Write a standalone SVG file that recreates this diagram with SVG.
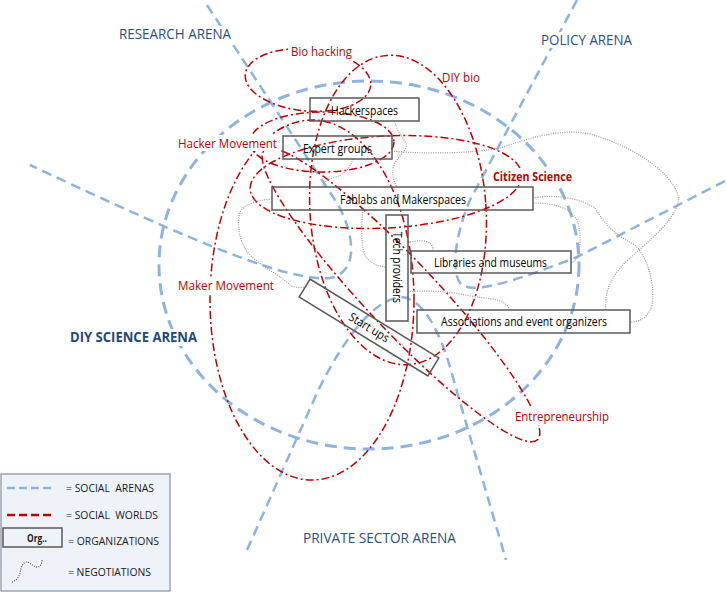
<svg xmlns="http://www.w3.org/2000/svg" width="727" height="592" viewBox="0 0 727 592">
<style>
.arena{fill:none;stroke:#8db3e2;stroke-width:2.5;stroke-dasharray:10 6}
.world{fill:none;stroke:#c00000;stroke-width:1.5;stroke-dasharray:8 3 2 3}
.neg{fill:none;stroke:#9b9b9b;stroke-width:1.2;stroke-dasharray:1 1.3}
.box{fill:none;stroke:#5a5a5a;stroke-width:1.5}
text{font-family:"Open Sans","Liberation Sans",sans-serif}
.an{font-size:14px;fill:#2b4f80}
.wl{font-size:13px;fill:#c00000}
.bl{font-size:12px;fill:#000}
.lg{font-size:10.5px;fill:#1a1a1a}
.bg{fill:#fff}
</style>
<rect width="727" height="592" fill="#fff"/>
<g id="arenas">
<ellipse class="arena" cx="369" cy="265" rx="210" ry="184" style="stroke-width:3;stroke-dasharray:12 7"/>
<path class="arena" d="M207,5 L337,203 C352,228 362,272 330,278 C290,282 200,245 30,165"/>
<path class="arena" d="M577,0 L470,200 C455,235 450,275 462,285 C478,295 530,275 577,257 L727,180"/>
<path class="arena" d="M247,550 L317,393 C345,335 375,300 400,297 C420,297 440,325 455,385 L506,560"/>
</g>
<g id="social-worlds">
<ellipse id="w-biohacking" class="world" cx="308" cy="80" rx="63" ry="31" transform="rotate(5 308 80)"/>
<ellipse id="w-diybio" class="world" cx="398" cy="210" rx="88" ry="155" transform="rotate(-4 398 210)"/>
<ellipse id="w-hacker" class="world" cx="322" cy="142" rx="72" ry="30"/>
<ellipse id="w-citizen" class="world" cx="386" cy="182" rx="136" ry="46" transform="rotate(-3 386 182)"/>
<ellipse id="w-maker" class="world" cx="312" cy="300" rx="102" ry="180"/>
<ellipse id="w-entre" class="world" cx="401" cy="295" rx="199" ry="35" transform="rotate(46.7 401 295)"/>
</g>
<g id="connectors">
<path class="neg" d="M392,151 C420,154 470,154 500,148 C530,138 560,128 590,134 C630,145 670,170 678,195 C682,215 650,240 630,258 C605,280 605,300 606,310"/>
<path class="neg" d="M533,198 C555,194 580,198 595,208 C605,225 615,235 635,245 C650,260 655,290 652,305 C648,318 640,322 630,322"/>
<path class="neg" d="M533,203 C555,203 570,208 577,220 C582,232 580,248 578,255 C576,262 572,263 571,262"/>
<path class="neg" d="M395,121 C396,130 402,136 406,143 C408,150 398,156 394,165 C391,175 394,182 397,187"/>
<path class="neg" d="M353,159 C350,168 345,175 332,178 C325,180 322,184 323,187"/>
<path class="neg" d="M272,199 C258,200 244,204 240,212 C236,225 240,245 250,255 C262,267 280,275 290,285 C295,288 300,288 304,287"/>
<path class="neg" d="M363,210 C361,225 361,245 365,255 C370,264 378,266 386,267"/>
<path class="neg" d="M408,243 C415,240 425,240 430,243 C433,246 433,249 433,251"/>
<path class="neg" d="M408,292 C425,290 450,291 470,296 C490,299 505,298 510,310"/>
</g>
<g id="labels">
<rect class="bg" x="117" y="26" width="116" height="16"/>
<text class="an" x="119" y="39" textLength="112" lengthAdjust="spacingAndGlyphs">RESEARCH ARENA</text>
<rect class="bg" x="539" y="32" width="95" height="16"/>
<text class="an" x="541" y="45" textLength="91" lengthAdjust="spacingAndGlyphs">POLICY ARENA</text>
<rect class="bg" x="68" y="329" width="131" height="17"/>
<text class="an" x="70" y="342" textLength="127" lengthAdjust="spacingAndGlyphs" style="font-weight:bold;font-size:13.5px;fill:#1f497d">DIY SCIENCE ARENA</text>
<text class="an" x="303" y="543" textLength="153" lengthAdjust="spacingAndGlyphs">PRIVATE SECTOR ARENA</text>
<rect class="bg" x="289" y="44" width="65" height="16"/>
<text class="wl" x="291" y="56" textLength="61" lengthAdjust="spacingAndGlyphs" style="font-size:12px">Bio hacking</text>
<text class="wl" x="442" y="82" textLength="38" lengthAdjust="spacingAndGlyphs" style="font-size:12px">DIY bio</text>
<rect class="bg" x="176" y="135" width="103" height="16"/>
<text class="wl" x="178" y="148" textLength="99" lengthAdjust="spacingAndGlyphs">Hacker Movement</text>
<rect class="bg" x="491" y="168" width="83" height="16"/>
<text class="wl" x="493" y="181" textLength="79" lengthAdjust="spacingAndGlyphs" style="font-weight:bold;font-size:12.5px">Citizen Science</text>
<rect class="bg" x="176" y="277" width="100" height="17"/>
<text class="wl" x="178" y="290" textLength="96" lengthAdjust="spacingAndGlyphs">Maker Movement</text>
<rect class="bg" x="513" y="408" width="98" height="17"/>
<text class="wl" x="515" y="421" textLength="94" lengthAdjust="spacingAndGlyphs">Entrepreneurship</text>
</g>
<g id="hackerspaces"><rect class="box" x="310" y="98" width="109" height="23"/><text class="bl" x="331" y="115" textLength="67" lengthAdjust="spacingAndGlyphs">Hackerspaces</text></g>
<g id="expert-groups"><rect class="box" x="283" y="136" width="109" height="23"/><text class="bl" x="303" y="153" textLength="69" lengthAdjust="spacingAndGlyphs">Expert groups</text></g>
<g id="fablabs"><rect class="box" x="272" y="187" width="261" height="23"/><text class="bl" x="340" y="204" textLength="126" lengthAdjust="spacingAndGlyphs">Fablabs and Makerspaces</text></g>
<g id="tech-providers"><rect class="box" x="386" y="215" width="22" height="106"/><text class="bl" transform="translate(393,232) rotate(90)" textLength="71" lengthAdjust="spacingAndGlyphs">Tech providers</text></g>
<g id="libraries"><rect class="box" x="411" y="251" width="160" height="22"/><text class="bl" x="434" y="267" textLength="113" lengthAdjust="spacingAndGlyphs">Libraries and museums</text></g>
<g id="associations"><rect class="box" x="417" y="310" width="213" height="23"/><text class="bl" x="441" y="326" textLength="166" lengthAdjust="spacingAndGlyphs">Associations and event organizers</text></g>
<g id="start-ups" transform="translate(369,327.5) rotate(31.5)"><rect class="box" x="-75.5" y="-10.5" width="151" height="21"/><text class="bl" x="0" y="4" text-anchor="middle" textLength="45" lengthAdjust="spacingAndGlyphs">Start ups</text></g>
<g id="legend">
<rect x="1" y="474" width="169" height="117" fill="#eef3fa" stroke="#7f8ea3" stroke-width="1.2"/>
<line x1="7" y1="488" x2="55" y2="488" stroke="#8db3e2" stroke-width="2.5" stroke-dasharray="8 4"/>
<text class="lg" x="66" y="492" textLength="88" lengthAdjust="spacingAndGlyphs" xml:space="preserve">= SOCIAL  ARENAS</text>
<line x1="7" y1="515" x2="55" y2="515" stroke="#c00000" stroke-width="2.5" stroke-dasharray="8 4"/>
<text class="lg" x="66" y="519" textLength="92" lengthAdjust="spacingAndGlyphs" xml:space="preserve">= SOCIAL  WORLDS</text>
<rect class="box" x="3" y="528" width="59" height="19"/>
<text class="lg" x="27" y="542" textLength="20" lengthAdjust="spacingAndGlyphs" style="font-weight:bold">Org..</text>
<text class="lg" x="68" y="545" textLength="91" lengthAdjust="spacingAndGlyphs">= ORGANIZATIONS</text>
<path class="neg" d="M12,582 C16,581 19,577 20,573 C21,567 23,562 27,562 C31,563 35,568 38,567 C41,566 42,563 42,560" style="stroke:#555"/>
<text class="lg" x="68" y="576" textLength="83" lengthAdjust="spacingAndGlyphs">= NEGOTIATIONS</text>
</g>
</svg>
